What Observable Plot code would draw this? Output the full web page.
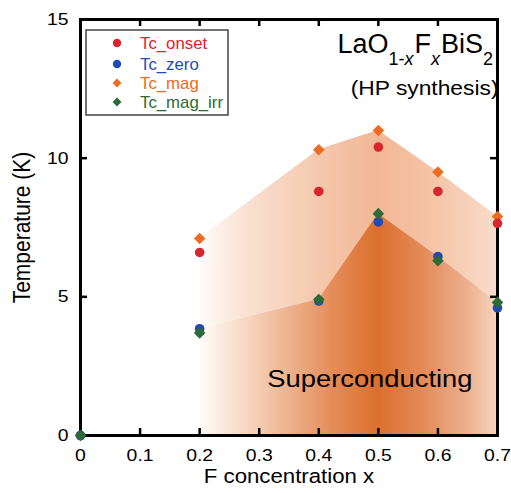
<!DOCTYPE html>
<html><head><meta charset="utf-8">
<script src="https://cdn.jsdelivr.net/npm/d3@7"></script>
<script src="https://cdn.jsdelivr.net/npm/@observablehq/plot@0.6"></script>
<style>body{margin:0;background:#fff}</style>
</head><body><div id="chart"></div>
<script>
// ---- data ----
const xConc    = [0, 0.2, 0.4, 0.5, 0.6, 0.7];
const tcOnset  = [0, 6.6, 8.8, 10.4, 8.8, 7.65];
const tcZero   = [0, 3.85, 4.85, 7.7, 6.45, 4.6];
const tcMag    = [null, 7.1, 10.3, 11.0, 9.5, 7.9];
const tcMagIrr = [0, 3.7, 4.9, 8.0, 6.3, 4.8];
const seriesNames   = ["Tc_onset", "Tc_zero", "Tc_mag", "Tc_mag_irr"];
const seriesColors  = ["#d7262e", "#1f4bb4", "#ed6b22", "#2a6b36"];
const seriesSymbols = ["circle", "circle", "diamond2", "diamond2"];
const xTicks = [0, 0.1, 0.2, 0.3, 0.4, 0.5, 0.6, 0.7];
const yTicks = [0, 5, 10, 15];
const xLabel = "F concentration x";
const yLabel = "Temperature (K)";
const regionLabel = "Superconducting";
const subTitle = "(HP synthesis)";

// ---- layout ----
const W = 511, H = 493;
const mL = 80, mR = 14, mT = 19, mB = 58;
const innerW = W - mL - mR, innerH = H - mT - mB;
const FONT = "'Liberation Sans', Arial, sans-serif";
const SX = 1.14; // horizontal text stretch of the original

const rows = xConc.map((x, i) => ({x, onset: tcOnset[i], zero: tcZero[i], mag: tcMag[i], irr: tcMagIrr[i]}));
const sc = rows.filter(d => d.mag != null).map(d => ({x: d.x, top: d.mag, edge: Math.max(d.zero, d.irr)}));
const seriesKeys = ["onset", "zero", "mag", "irr"];
const drawOrder = [2, 0, 1, 3];

const tickStyle = {stroke: "black", strokeWidth: 2.5};

const plot = Plot.plot({
  width: W, height: H,
  marginLeft: mL, marginRight: mR, marginTop: mT, marginBottom: mB,
  x: {domain: [0, 0.7]},
  y: {domain: [0, 15]},
  style: {fontFamily: FONT, background: "white", overflow: "visible", color: "black"},
  marks: [
    Plot.areaY(sc, {x: "x", y1: "edge", y2: "top", fill: "url(#scOuter)"}),
    Plot.areaY(sc, {x: "x", y1: 0, y2: "edge", fill: "url(#scInner)"}),
    Plot.tickX(xTicks, {x: d => d, insetTop: innerH - 7, ...tickStyle}),
    Plot.tickX(xTicks, {x: d => d, insetBottom: innerH - 7, ...tickStyle}),
    Plot.tickY(yTicks, {y: d => d, insetRight: innerW - 7, ...tickStyle}),
    Plot.tickY(yTicks, {y: d => d, insetLeft: innerW - 7, ...tickStyle}),
    Plot.frame({stroke: "black", strokeWidth: 3}),
    Plot.axisX({ticks: xTicks, tickSize: 0, tickPadding: 13, tickFormat: d => String(d), fontSize: 17, label: null}),
    Plot.axisY({ticks: yTicks, tickSize: 0, tickPadding: 12, tickFormat: d => String(d), fontSize: 17, label: null}),
    ...drawOrder.map(i => Plot.dot(rows, {x: "x", y: seriesKeys[i], symbol: seriesSymbols[i], fill: seriesColors[i], r: seriesSymbols[i] === "circle" ? 4.8 : 5.2})),
    Plot.text([xLabel], {frameAnchor: "bottom", dy: 47, text: d => d, fontSize: 19.5}),
    Plot.text([yLabel], {frameAnchor: "left", textAnchor: "middle", dx: -58, rotate: -90, text: d => d, fontSize: 21}),
    Plot.text([regionLabel], {frameAnchor: "bottom-right", textAnchor: "end", dx: -25, dy: -49, text: d => d, fontSize: 24}),
    Plot.text([subTitle], {frameAnchor: "top-right", textAnchor: "end", dx: 1, dy: 61, text: d => d, fontSize: 20})
  ]
});
document.getElementById("chart").appendChild(plot);

const svg = d3.select(plot);
// horizontal stretch of texts
svg.selectAll("text").each(function() {
  const t = this.getAttribute("transform");
  if (t && t.includes("rotate")) this.setAttribute("transform", t + ` scale(1,${SX})`);
  else if (t) this.setAttribute("transform", t + ` scale(${SX},1)`);
});

// gradients
const xs = plot.scale("x");
const gx1 = xs.apply(0.2), gx2 = xs.apply(0.7);
const defs = svg.insert("defs", ":first-child");
function grad(id, stops) {
  const g = defs.append("linearGradient").attr("id", id).attr("gradientUnits", "userSpaceOnUse")
    .attr("x1", gx1).attr("x2", gx2).attr("y1", 0).attr("y2", 0);
  stops.forEach(([o, c]) => g.append("stop").attr("offset", o).attr("stop-color", c));
}
grad("scInner", [[0, "#fffcfa"], [0.12, "#f9e0cf"], [0.25, "#f0c0a0"], [0.45, "#e48c58"], [0.6, "#dc6f2e"], [0.75, "#e38a58"], [0.9, "#edb08e"], [1, "#f6d5bf"]]);
grad("scOuter", [[0, "#fffcfa"], [0.15, "#fae2d3"], [0.4, "#f5c8ad"], [0.6, "#f3b794"], [0.8, "#f5c6a8"], [1, "#f9dccb"]]);

// title with subscripts
const title = svg.append("text")
  .attr("transform", `translate(${W - mR - 4},53)`)
  .attr("text-anchor", "end").attr("font-family", FONT).attr("font-size", 27).attr("fill", "black");
const parts = [["LaO", 0], ["1-", 1], ["x", 2], ["F", -1], ["x", 3], ["BiS", -1], ["2", 1]];
let shifted = false;
parts.forEach(([s, kind]) => {
  const ts = title.append("tspan").text(s);
  if (kind === 0) return;
  if (kind === -1) { ts.attr("dy", shifted ? -12 : 0).attr("dx", 1); shifted = false; }
  else {
    ts.attr("font-size", 18);
    if (kind === 2 || kind === 3) ts.attr("font-style", "italic");
    if (!shifted) { ts.attr("dy", 12); shifted = true; }
  }
});

// legend
const lg = svg.append("g").attr("font-family", FONT).attr("font-size", 16).attr("text-anchor", "start");
lg.append("rect").attr("x", 86).attr("y", 30).attr("width", 142).attr("height", 85)
  .attr("fill", "white").attr("stroke", "#444").attr("stroke-width", 1.5);
const rowY = [43, 64, 83, 102];
seriesNames.forEach((name, i) => {
  const sym = seriesSymbols[i] === "circle" ? d3.symbolCircle : d3.symbolDiamond2;
  lg.append("path").attr("d", d3.symbol(sym, seriesSymbols[i] === "circle" ? 55 : 50)())
    .attr("transform", `translate(117,${rowY[i]})`).attr("fill", seriesColors[i]);
  lg.append("text").attr("text-anchor", "start").attr("transform", `translate(140,${rowY[i]}) scale(1.05,1)`)
    .attr("dy", "0.35em").attr("fill", seriesColors[i]).text(name);
});
</script>
</body></html>
